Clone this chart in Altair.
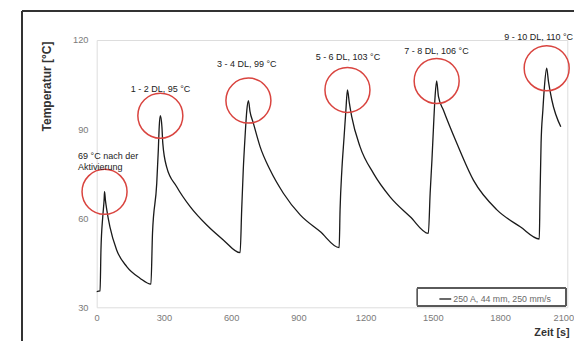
import altair as alt
import pandas as pd

# ---- data ----
time_s = [0, 15, 19, 27, 33, 35, 39, 45, 59, 89, 134, 193, 242,
          249, 268, 275, 279, 284, 291, 295, 312, 357, 417, 491, 565, 640,
          647, 654, 662, 670, 677, 684, 699, 729, 774, 833, 908, 997, 1082,
          1086, 1094, 1104, 1112, 1119, 1127, 1138, 1175, 1235, 1309, 1399, 1480,
          1488, 1496, 1503, 1510, 1517, 1525, 1547, 1607, 1681, 1786, 1890, 1975,
          1978, 1983, 1991, 1998, 2008, 2016, 2031, 2071]
temp_c = [35.3, 35.5, 49.3, 60.5, 66.1, 68.9, 66.0, 62.8, 57.1, 49.3, 43.7, 39.8, 37.8,
          54.9, 71.8, 83.0, 90.8, 94.5, 90.8, 85.2, 77.3, 70.6, 63.9, 57.7, 52.7, 48.4,
          62.8, 76.2, 87.4, 96.4, 99.6, 96.0, 92.0, 84.1, 76.2, 68.4, 61.1, 55.5, 50.1,
          62.8, 76.2, 87.4, 96.4, 103.2, 99.0, 94.2, 84.1, 75.1, 67.2, 60.5, 54.9,
          68.4, 79.6, 90.8, 101.0, 106.2, 101.0, 96.4, 85.2, 72.8, 62.8, 57.1, 53.0,
          66.1, 85.2, 96.4, 104.3, 110.5, 106.0, 99.8, 90.8]
series_name = "250 A, 44 mm, 250 mm/s"

peak_time = [35, 284, 677, 1119, 1517, 2008]
peak_temp = [68.9, 94.5, 99.6, 103.2, 106.2, 110.5]

label_text = ["1 - 2 DL, 95 °C", "3 - 4 DL, 99 °C", "5 - 6 DL, 103 °C",
              "7 - 8 DL, 106 °C", "9 - 10 DL, 110 °C"]
label_time = [285, 670, 1121, 1516, 1972]
label_temp = [103.4, 111.8, 114.2, 116.4, 120.9]

first_text = ["69 °C nach der", "Aktivierung"]
first_time = [-83, -83]
first_temp = [81.0, 77.3]

x_ticks = [0, 300, 600, 900, 1200, 1500, 1800, 2100]
y_ticks = [30, 60, 90, 120]

line_df = pd.DataFrame({"t": time_s, "T": temp_c, "series": series_name})
peak_df = pd.DataFrame({"t": peak_time, "T": peak_temp})
lab_df = pd.DataFrame({"t": label_time, "T": label_temp, "txt": label_text})
first_df = pd.DataFrame({"t": first_time, "T": first_temp, "txt": first_text})

FONT = "Liberation Sans"
W, H = 470.6, 267.3
PAD = {"left": 88.7, "top": 32, "right": 6.5, "bottom": 34}
SVG_W = PAD["left"] + W + PAD["right"]
SVG_H = PAD["top"] + H + PAD["bottom"]

xs = alt.Scale(domain=[0, 2100], nice=False, zero=False)
ys = alt.Scale(domain=[30, 120], nice=False, zero=False)

x_axis = alt.Axis(values=x_ticks, format="d", grid=False, domain=False, ticks=False, tickSize=0,
                  labelFlush=False, labelOverlap=False,
                  labelOffset={"condition": {"test": "datum.value == 2100", "value": -4}, "value": 0},
                  labelPadding=6, labelFontSize=9.3, labelColor="#7a7a7a", labelFont=FONT,
                  title="Zeit [s]", titleFont=FONT, titleFontSize=10.8, titleFontWeight="bold",
                  titleColor="#333333", titleX=472.5, titleY=25.5, titleAlign="right",
                  titleBaseline="middle", titleAnchor="end")
y_axis = alt.Axis(values=y_ticks, format="d", grid=False, domain=False, ticks=False, tickSize=0,
                  labelFlush=False, labelOverlap=False,
                  labelPadding=8.7, labelFontSize=9.3, labelColor="#7a7a7a", labelFont=FONT,
                  title="Temperatur [°C]", titleFont=FONT, titleFontSize=12, titleFontWeight="bold",
                  titleColor="#333333", titleX=-50, titleY=46, titleAngle=270,
                  titleAlign="center", titleBaseline="middle")

line = alt.Chart(line_df).mark_line(strokeWidth=1.3, interpolate="monotone").encode(
    x=alt.X("t:Q", scale=xs, axis=x_axis),
    y=alt.Y("T:Q", scale=ys, axis=y_axis),
    color=alt.Color("series:N", scale=alt.Scale(range=["#1a1a1a"]),
                    legend=alt.Legend(title=None, orient="none", legendX=341.6, legendY=252,
                                      symbolType="stroke", symbolSize=140, symbolStrokeWidth=1.3,
                                      labelFont=FONT, labelFontSize=8.8, labelColor="#6a6a6a",
                                      labelOffset=1, padding=0)),
)

circles = alt.Chart(peak_df).mark_point(shape="circle", size=2025, filled=False, opacity=1,
                                        stroke="#d9443f", strokeWidth=1.5).encode(
    x=alt.X("t:Q", scale=xs), y=alt.Y("T:Q", scale=ys))

labels = alt.Chart(lab_df).mark_text(font=FONT, fontSize=9, color="#222222",
                                     align="center", baseline="middle").encode(
    x=alt.X("t:Q", scale=xs), y=alt.Y("T:Q", scale=ys), text="txt:N")

first_labels = alt.Chart(first_df).mark_text(font=FONT, fontSize=9, color="#222222",
                                             align="left", baseline="middle").encode(
    x=alt.X("t:Q", scale=xs), y=alt.Y("T:Q", scale=ys), text="txt:N")

# decorative frame of the figure and legend box (kept inside the svg)
frame_top = alt.Chart(line_df).mark_rule(color="#333333", strokeWidth=1.8).encode(
    x=alt.value(-74.7), x2=alt.value(SVG_W - PAD["left"]), y=alt.value(-29))
frame_left = alt.Chart(line_df).mark_rule(color="#333333", strokeWidth=1.5).encode(
    x=alt.value(-74.7), y=alt.value(-29), y2=alt.value(SVG_H - PAD["top"]))
legend_box = alt.Chart(line_df).mark_rect(fill=None, stroke="#5a5a5a", strokeWidth=1).encode(
    x=alt.value(320.8), x2=alt.value(469.2), y=alt.value(248.3), y2=alt.value(266))

chart = alt.layer(frame_top, frame_left, legend_box, line, circles, labels, first_labels).properties(
    width=W, height=H,
    autosize=alt.AutoSizeParams(type="none"),
    padding=PAD,
).configure_view(stroke=None).configure(font=FONT)

chart.save("out.html", embed_options={"renderer": "svg", "actions": False})
